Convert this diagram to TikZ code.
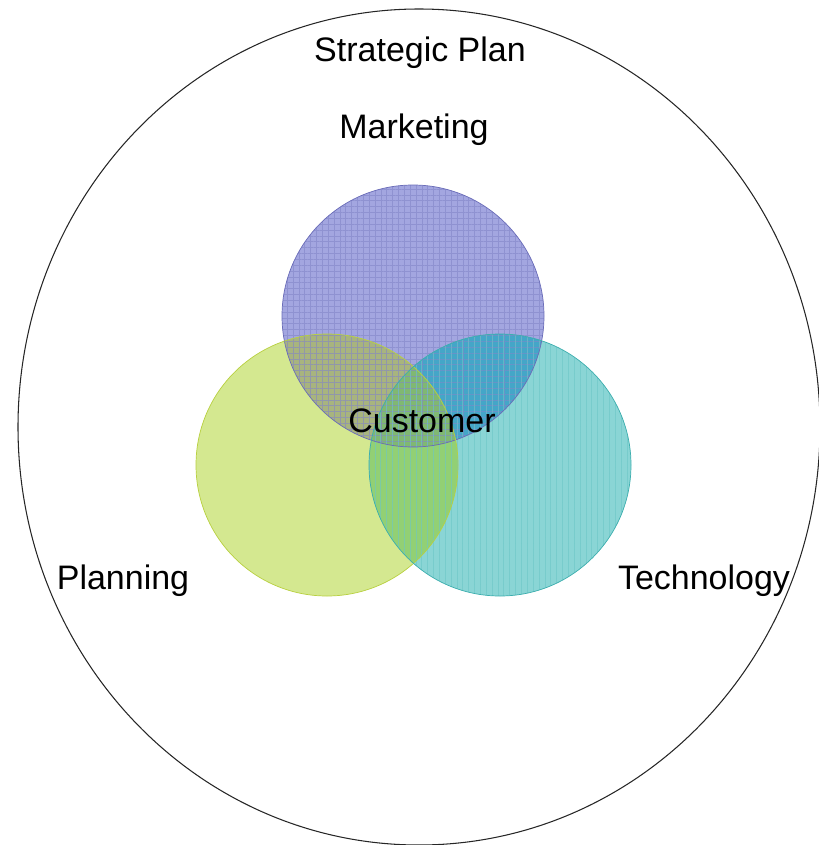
\documentclass[tikz,border=0pt]{standalone}
\usepackage{fontspec}
\setmainfont{Liberation Sans}
\usetikzlibrary{patterns.meta}
\definecolor{myPurple}{HTML}{A3A6E0}
\definecolor{myPurpleLine}{HTML}{8285C8}
\definecolor{myPurpleEdge}{HTML}{6A6CB8}
\definecolor{myLime}{HTML}{D4E890}
\definecolor{myLimeEdge}{HTML}{B8D040}
\definecolor{myTeal}{HTML}{8AD5D5}
\definecolor{myTealLine}{HTML}{6CC6C6}
\definecolor{myTealEdge}{HTML}{3CAEAE}
\definecolor{myOlive}{HTML}{A8B47E}
\definecolor{myBlueMix}{HTML}{44A6C8}
\definecolor{myGreenMix}{HTML}{92D074}
\definecolor{myCore}{HTML}{80B872}

\begin{document}
\begin{tikzpicture}[x=0.03cm, y=-0.03cm, font=\fontsize{29}{35}\selectfont]

  \tikzstyle{T}=[text=black, inner sep=0pt, anchor=base]
  \tikzstyle{R}=[line width=0.6pt]

  \useasboundingbox (0,0) rectangle (819,845);

  % the big circle
  \draw[line width=0.9pt, black!85] (419,427) ellipse [x radius=401, y radius=418];

  \coordinate (mkt) at (413,316);
  \coordinate (pln) at (327,465);
  \coordinate (tec) at (500,465);

  % plain fills
  \fill[myPurple] (mkt) circle [radius=131];
  \fill[myLime] (pln) circle [radius=131];
  \fill[myTeal] (tec) circle [radius=131];

  % overlaps
  \begin{scope}
    \clip (mkt) circle [radius=131];
    \fill[myOlive] (pln) circle [radius=131];
    \fill[myBlueMix] (tec) circle [radius=131];
  \end{scope}
  \begin{scope}
    \clip (pln) circle [radius=131];
    \fill[myGreenMix] (tec) circle [radius=131];
    \clip (mkt) circle [radius=131];
    \fill[myCore] (tec) circle [radius=131];
  \end{scope}

  % textures
  \fill[pattern={Hatch[angle=0, distance=5pt, line width=0.4pt]}, pattern color=myPurpleLine, opacity=0.6] (mkt) circle [radius=131];
  \fill[pattern={Lines[angle=90, distance=5pt, line width=0.5pt]}, pattern color=myTealLine, opacity=0.6] (tec) circle [radius=131];

  % edges
  \draw[R, myPurpleEdge] (mkt) circle [radius=131];
  \draw[R, myLimeEdge] (pln) circle [radius=131];
  \draw[R, myTealEdge] (tec) circle [radius=131];

  \node[T] at (420,62) (plan) {Strategic Plan};
  \node[T] at (414,139) (marketing) {Marketing};
  \node[T] at (422,432) (customer) {Customer};
  \node[T] at (123,589) (planning) {Planning};
  \node[T] at (704,589) (technology) {Technology};

\end{tikzpicture}
\end{document}
